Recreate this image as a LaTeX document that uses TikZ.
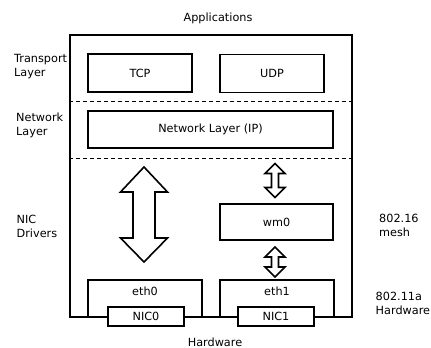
\documentclass[tikz,border=0pt]{standalone}
\usepackage{fontspec}
\setmainfont{DejaVu Sans}
\begin{document}
\begin{tikzpicture}[
    x=1bp, y=-1bp,
    every node/.style={font=\fontsize{11.3}{14}\selectfont},
    box/.style={draw, rectangle, line width=1.8bp, inner sep=0pt},
    nic/.style={box, fill=white, line width=1.5bp, minimum width=76bp, minimum height=19bp},
    divider/.style={line width=1bp, dash pattern=on 4bp off 3bp},
    fatarrow/.style={draw, line width=1.6bp, line join=miter, fill=white},
    side/.style={align=left, anchor=west, inner sep=0pt},
    inlabel/.style={anchor=base, yshift=-16bp}
]
\useasboundingbox (0,0) rectangle (431,348);

% --- Stack frame ---
\node[box, minimum width=282bp, minimum height=282bp] (stack) at (211,176) {};
\node[anchor=base] (apps) at (218,21.7) {Applications};
\node[anchor=base] (hw) at (215,346) {Hardware};

% Layer separators
\draw[divider] (stack.west |- 0,101.5) -- (stack.east |- 0,101.5);
\draw[divider] (stack.west |- 0,158.5) -- (stack.east |- 0,158.5);

% --- Transport and network boxes ---
\node[box, minimum width=104bp, minimum height=38bp] (tcp) at (140,73) {TCP};
\node[box, minimum width=104bp, minimum height=38bp] (udp) at (272,73.5) {UDP};
\node[box, minimum width=245bp, minimum height=37bp] (ip) at (210.5,129.5) {Network Layer (IP)};

% --- Drivers ---
\node[box, minimum width=113bp, minimum height=36bp] (wm0) at (276.5,222) {wm0};
\node[box, minimum width=114bp, minimum height=37bp, label={[inlabel]north:eth0}] (eth0) at (145,298.5) {};
\node[box, minimum width=114bp, minimum height=37bp, label={[inlabel]north:eth1}] (eth1) at (277,298.5) {};

% NICs sit on the bottom edge
\node[nic] (nic0) at (146,316.3) {NIC0};
\node[nic] (nic1) at (276,316.3) {NIC1};

% --- Double arrows ---
\draw[fatarrow] (144,167) -- (167.5,192) -- (155,192) -- (155,238) -- (167.5,238)
    -- (144,262) -- (120.5,238) -- (133,238) -- (133,192) -- (120.5,192) -- cycle;
\foreach \top/\len in {163.5/14, 247/10} {
    \draw[fatarrow] (275,\top) -- ++(10,10) -- ++(-6.5,0) -- ++(0,\len) -- ++(6.5,0)
        -- ++(-10,10) -- ++(-10,-10) -- ++(6.5,0) -- ++(0,-\len) -- ++(-6.5,0) -- cycle;
}

% --- Side labels ---
\node[side] (transport) at (14,67) {Transport\\Layer};
\node[side] (network) at (16,125.5) {Network\\Layer};
\node[side] (drivers) at (16.5,226.5) {NIC\\Drivers};
\node[side] (mesh) at (379,225.5) {802.16\\mesh};
\node[side] (radio) at (375.5,303) {802.11a\\Hardware};

\end{tikzpicture}
\end{document}
